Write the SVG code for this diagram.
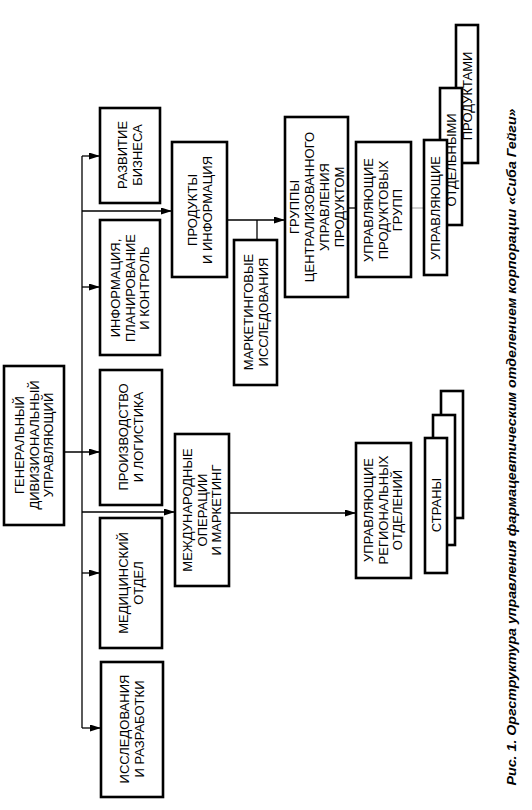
<svg xmlns="http://www.w3.org/2000/svg" width="532" height="810" viewBox="0 0 532 810">
<defs>
<marker id="ar" markerUnits="userSpaceOnUse" markerWidth="12" markerHeight="8" refX="11" refY="3.5" orient="auto">
<path d="M0,0 L11,3.5 L0,7 z" fill="#000"/>
</marker>
<style>
.box{fill:#fff;stroke:#000;stroke-width:2.6}
.ln{fill:none;stroke:#000;stroke-width:1.3}
.thin{fill:none;stroke:#888;stroke-width:0.8}
.t{font-family:"Liberation Sans",Arial,sans-serif;font-size:13px;text-anchor:middle;fill:#000}
.cap{font-family:"Liberation Sans",Arial,sans-serif;font-size:13.5px;font-weight:bold;font-style:italic;text-anchor:middle;fill:#000}
</style>
</defs>
<rect width="532" height="810" fill="#fff"/>

<g id="connectors">
<line class="ln" x1="82" y1="156" x2="82" y2="728"/>
<line class="ln" x1="82" y1="156" x2="100" y2="156" marker-end="url(#ar)"/>
<line class="ln" x1="82" y1="211" x2="172" y2="211" marker-end="url(#ar)"/>
<line class="ln" x1="82" y1="287" x2="100" y2="287" marker-end="url(#ar)"/>
<line class="ln" x1="64" y1="452" x2="100" y2="452" marker-end="url(#ar)"/>
<line class="ln" x1="82" y1="512" x2="175" y2="512" marker-end="url(#ar)"/>
<line class="ln" x1="82" y1="573" x2="100" y2="573" marker-end="url(#ar)"/>
<line class="ln" x1="82" y1="728" x2="101" y2="728" marker-end="url(#ar)"/>
<line class="ln" x1="227" y1="220" x2="285" y2="220" marker-end="url(#ar)"/>
<line class="ln" x1="257" y1="220" x2="257" y2="240"/>
<line class="ln" x1="348" y1="208" x2="356" y2="208"/>
<line class="thin" x1="411" y1="208" x2="424" y2="208"/>
<line class="ln" x1="229" y1="513" x2="356" y2="513" marker-end="url(#ar)"/>
</g>

<g id="gen">
<rect class="box" x="4" y="366" width="60" height="159"/>
<text class="t" transform="translate(34,445) rotate(-90)"><tspan x="0" y="-10">ГЕНЕРАЛЬНЫЙ</tspan><tspan x="0" y="4.5">ДИВИЗИОНАЛЬНЫЙ</tspan><tspan x="0" y="19">УПРАВЛЯЮЩИЙ</tspan></text>
</g>

<g id="razvitie">
<rect class="box" x="100" y="108" width="60" height="95"/>
<text class="t" transform="translate(130,155) rotate(-90)"><tspan x="0" y="-3">РАЗВИТИЕ</tspan><tspan x="0" y="12">БИЗНЕСА</tspan></text>
</g>

<g id="informatsiya">
<rect class="box" x="100" y="220" width="60" height="135"/>
<text class="t" transform="translate(130,288) rotate(-90)"><tspan x="0" y="-10">ИНФОРМАЦИЯ,</tspan><tspan x="0" y="4.5">ПЛАНИРОВАНИЕ</tspan><tspan x="0" y="19">И КОНТРОЛЬ</tspan></text>
</g>

<g id="proizvodstvo">
<rect class="box" x="100" y="370" width="62" height="135"/>
<text class="t" transform="translate(131,437) rotate(-90)"><tspan x="0" y="-3">ПРОИЗВОДСТВО</tspan><tspan x="0" y="12">И ЛОГИСТИКА</tspan></text>
</g>

<g id="meditsinsky">
<rect class="box" x="100" y="518" width="62" height="130"/>
<text class="t" transform="translate(131,583) rotate(-90)"><tspan x="0" y="-3">МЕДИЦИНСКИЙ</tspan><tspan x="0" y="12">ОТДЕЛ</tspan></text>
</g>

<g id="issledovaniya">
<rect class="box" x="101" y="662" width="62" height="135"/>
<text class="t" transform="translate(132,729) rotate(-90)"><tspan x="0" y="-3">ИССЛЕДОВАНИЯ</tspan><tspan x="0" y="12">И РАЗРАБОТКИ</tspan></text>
</g>

<g id="produkty">
<rect class="box" x="172" y="142" width="55" height="135"/>
<text class="t" transform="translate(200,210) rotate(-90)"><tspan x="0" y="-3">ПРОДУКТЫ</tspan><tspan x="0" y="12">И ИНФОРМАЦИЯ</tspan></text>
</g>

<g id="marketing-research">
<rect class="box" x="234" y="240" width="43" height="145"/>
<text class="t" transform="translate(256,312) rotate(-90)"><tspan x="0" y="-3">МАРКЕТИНГОВЫЕ</tspan><tspan x="0" y="12">ИССЛЕДОВАНИЯ</tspan></text>
</g>

<g id="gruppy">
<rect class="box" x="285" y="117" width="63" height="180"/>
<text class="t" transform="translate(316,207) rotate(-90)"><tspan x="0" y="-17">ГРУППЫ</tspan><tspan x="0" y="-2">ЦЕНТРАЛИЗОВАННОГО</tspan><tspan x="0" y="13">УПРАВЛЕНИЯ</tspan><tspan x="0" y="28">ПРОДУКТОМ</tspan></text>
</g>

<g id="upr-produktovyh">
<rect class="box" x="356" y="142" width="55" height="135"/>
<text class="t" transform="translate(383,210) rotate(-90)"><tspan x="0" y="-10">УПРАВЛЯЮЩИЕ</tspan><tspan x="0" y="4.5">ПРОДУКТОВЫХ</tspan><tspan x="0" y="19">ГРУПП</tspan></text>
</g>

<g id="upr-otdelnymi">
<rect class="box" x="456" y="25" width="22" height="138"/>
<rect class="box" x="440" y="88" width="22" height="137"/>
<rect class="box" x="424" y="140" width="23" height="135"/>
<text class="t" transform="translate(467,96) rotate(-90)" y="4.5">ПРОДУКТАМИ</text>
<text class="t" transform="translate(451,160) rotate(-90)" y="4.5">ОТДЕЛЬНЫМИ</text>
<text class="t" transform="translate(435.5,208) rotate(-90)" y="4.5">УПРАВЛЯЮЩИЕ</text>
</g>

<g id="mezhdunarodnye">
<rect class="box" x="175" y="434" width="54" height="152"/>
<text class="t" transform="translate(202,510) rotate(-90)"><tspan x="0" y="-10">МЕЖДУНАРОДНЫЕ</tspan><tspan x="0" y="4.5">ОПЕРАЦИИ</tspan><tspan x="0" y="19">И МАРКЕТИНГ</tspan></text>
</g>

<g id="upr-regionalnyh">
<rect class="box" x="356" y="443" width="55" height="135"/>
<text class="t" transform="translate(383,510) rotate(-90)"><tspan x="0" y="-10">УПРАВЛЯЮЩИЕ</tspan><tspan x="0" y="4.5">РЕГИОНАЛЬНЫХ</tspan><tspan x="0" y="19">ОТДЕЛЕНИЙ</tspan></text>
</g>

<g id="strany">
<rect class="box" x="441" y="391" width="22" height="127"/>
<rect class="box" x="433" y="415" width="22" height="130"/>
<rect class="box" x="425" y="438" width="22" height="135"/>
<text class="t" transform="translate(436,505) rotate(-90)" y="4.5">СТРАНЫ</text>
</g>

<g id="caption">
<text class="cap" transform="translate(511,447) rotate(-90)" y="5" textLength="677" lengthAdjust="spacingAndGlyphs">Рис. 1. Оргструктура управления фармацевтическим отделением корпорации «Сиба Гейги»</text>
</g>
</svg>
